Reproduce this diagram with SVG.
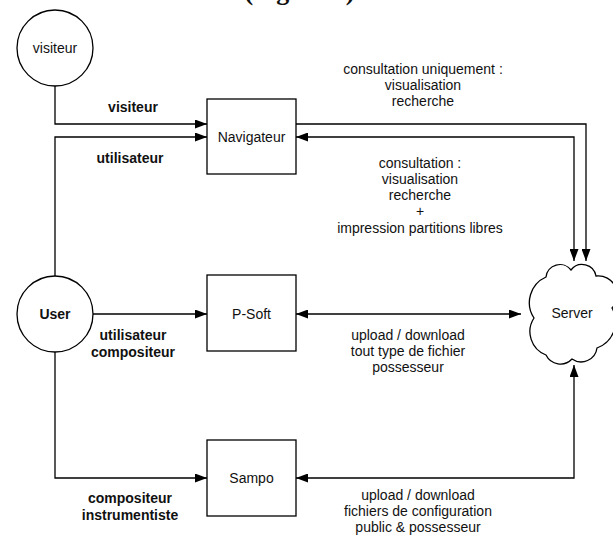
<svg xmlns="http://www.w3.org/2000/svg" width="613" height="535" viewBox="0 0 613 535">
<style>
.shape{fill:#fff;stroke:#000;stroke-width:1.3}
.conn{fill:none;stroke:#000;stroke-width:1.3}
.t{font-family:"Liberation Sans",Arial,Helvetica,sans-serif;font-size:14px;fill:#111;text-anchor:middle}
.b{font-weight:bold}
.title{font-family:"Liberation Serif","Times New Roman",serif;font-size:26px;font-weight:bold;fill:#111;text-anchor:end}
</style>
<defs>
<marker id="arr" markerUnits="userSpaceOnUse" markerWidth="12" markerHeight="9" refX="12" refY="4.5" orient="auto-start-reverse" viewBox="0 0 12 9">
<path d="M0,0 L12,4.5 L0,9 z" fill="#000"/>
</marker>
</defs>
<rect width="613" height="535" fill="#fff"/>
<text class="title" x="361" y="0">the elements (Figure 1).</text>
<g id="connectors">
<path class="conn" d="M55,86 V124 H207" marker-end="url(#arr)"/>
<path class="conn" d="M55,276 V137 H207" marker-end="url(#arr)"/>
<path class="conn" d="M93,314 H207" marker-end="url(#arr)"/>
<path class="conn" d="M55,352 V478 H207" marker-end="url(#arr)"/>
<path class="conn" d="M296,124 H586 V261" marker-end="url(#arr)"/>
<path class="conn" d="M296,137 H574 V261" marker-start="url(#arr)" marker-end="url(#arr)"/>
<path class="conn" d="M296,314 H521" marker-start="url(#arr)" marker-end="url(#arr)"/>
<path class="conn" d="M296,478 H574 V365" marker-start="url(#arr)" marker-end="url(#arr)"/>
</g>
<g id="labels">
<text class="t b" x="133" y="112">visiteur</text>
<text class="t b" x="130" y="163">utilisateur</text>
<text class="t b" x="133" y="340">utilisateur</text>
<text class="t b" x="133" y="356.5">compositeur</text>
<text class="t b" x="130" y="503">compositeur</text>
<text class="t b" x="130" y="520">instrumentiste</text>
<text class="t" x="423" y="74">consultation uniquement :</text>
<text class="t" x="423" y="90">visualisation</text>
<text class="t" x="423" y="106">recherche</text>
<text class="t" x="420" y="168">consultation :</text>
<text class="t" x="420" y="184">visualisation</text>
<text class="t" x="420" y="200">recherche</text>
<text class="t" x="420" y="216">+</text>
<text class="t" x="420" y="232.5">impression partitions libres</text>
<text class="t" x="408" y="340">upload / download</text>
<text class="t" x="408" y="356">tout type de fichier</text>
<text class="t" x="408" y="372">possesseur</text>
<text class="t" x="418" y="500">upload / download</text>
<text class="t" x="418" y="516">fichiers de configuration</text>
<text class="t" x="418" y="532">public &amp; possesseur</text>
</g>
<g id="node-visiteur">
<circle class="shape" cx="55" cy="48" r="38"/>
<text class="t" x="55" y="53">visiteur</text>
</g>
<g id="node-user">
<circle class="shape" cx="55" cy="314" r="38"/>
<text class="t b" x="55" y="319">User</text>
</g>
<g id="node-navigateur">
<rect class="shape" x="207" y="99" width="89" height="75"/>
<text class="t" x="251.5" y="142">Navigateur</text>
</g>
<g id="node-psoft">
<rect class="shape" x="207" y="275" width="89" height="76"/>
<text class="t" x="251.5" y="318.5">P-Soft</text>
</g>
<g id="node-sampo">
<rect class="shape" x="207" y="440" width="89" height="76"/>
<text class="t" x="251.5" y="483">Sampo</text>
</g>
<g id="node-server">
<path class="shape" d="M546,277 A14,14 0 0 1 571,270 A14,14 0 0 1 596,276 A19,19 0 0 1 612,308 A28,28 0 0 1 597,348 A16,16 0 0 1 572,359 A16,16 0 0 1 546,355 A25,25 0 0 1 534,318 A28,28 0 0 1 546,277 Z"/>
<text class="t" x="572" y="318">Server</text>
</g>
</svg>
